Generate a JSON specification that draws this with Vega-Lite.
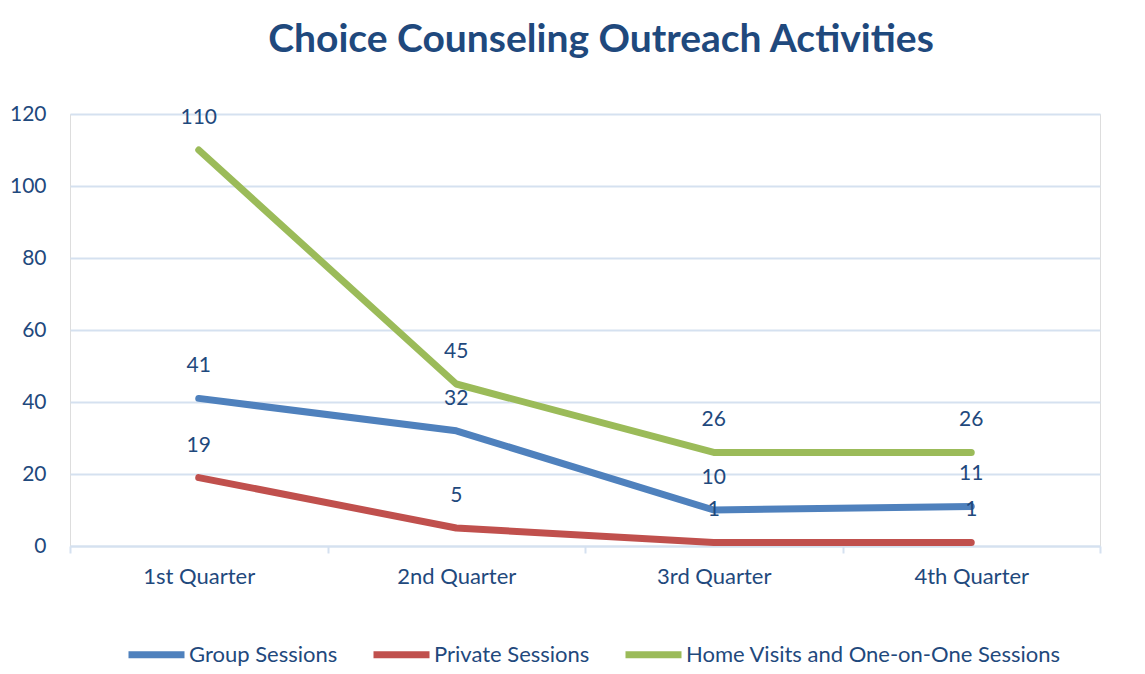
{
  "$schema": "https://vega.github.io/schema/vega-lite/v6.json",
  "width": 1030,
  "height": 432,
  "autosize": {"type": "none"},
  "padding": {"left": 70, "top": 114, "right": 45, "bottom": 128},
  "background": "white",
  "title": {
    "text": "Choice Counseling Outreach Activities",
    "font": "Lato",
    "fontSize": 39,
    "fontWeight": "bold",
    "color": "#1F497D",
    "anchor": "middle",
    "dx": 16,
    "offset": 43
  },
  "data": {
    "values": [
      {"quarter": "1st Quarter", "series": "Group Sessions", "value": 41},
      {"quarter": "2nd Quarter", "series": "Group Sessions", "value": 32},
      {"quarter": "3rd Quarter", "series": "Group Sessions", "value": 10},
      {"quarter": "4th Quarter", "series": "Group Sessions", "value": 11},
      {"quarter": "1st Quarter", "series": "Private Sessions", "value": 19},
      {"quarter": "2nd Quarter", "series": "Private Sessions", "value": 5},
      {"quarter": "3rd Quarter", "series": "Private Sessions", "value": 1},
      {"quarter": "4th Quarter", "series": "Private Sessions", "value": 1},
      {"quarter": "1st Quarter", "series": "Home Visits and One-on-One Sessions", "value": 110},
      {"quarter": "2nd Quarter", "series": "Home Visits and One-on-One Sessions", "value": 45},
      {"quarter": "3rd Quarter", "series": "Home Visits and One-on-One Sessions", "value": 26},
      {"quarter": "4th Quarter", "series": "Home Visits and One-on-One Sessions", "value": 26}
    ]
  },
  "encoding": {
    "x": {
      "field": "quarter",
      "type": "nominal",
      "sort": null,
      "scale": {"type": "band", "paddingInner": 0, "paddingOuter": 0},
      "axis": {
        "title": null,
        "labelAngle": 0,
        "labelFont": "Lato",
        "labelFontSize": 22,
        "labelColor": "#1F497D",
        "labelPadding": 13,
        "tickBand": "extent",
        "ticks": true,
        "tickSize": 7,
        "tickColor": "#D5E1F0",
        "tickWidth": 2,
        "domainColor": "#D5E1F0",
        "domainWidth": 2,
        "grid": false
      }
    },
    "y": {
      "field": "value",
      "type": "quantitative",
      "scale": {"domain": [0, 120]},
      "axis": {
        "title": null,
        "values": [0, 20, 40, 60, 80, 100, 120],
        "labelFont": "Lato",
        "labelFontSize": 21,
        "labelColor": "#1F497D",
        "labelPadding": 24,
        "ticks": false,
        "domain": false,
        "gridColor": "#D5E1F0",
        "gridWidth": 2
      }
    }
  },
  "layer": [
    {
      "mark": {"type": "line", "strokeWidth": 7, "strokeCap": "round", "strokeJoin": "round"},
      "encoding": {
        "color": {
          "field": "series",
          "type": "nominal",
          "scale": {
            "domain": ["Group Sessions", "Private Sessions", "Home Visits and One-on-One Sessions"],
            "range": ["#4F81BD", "#C0504D", "#9BBB59"]
          },
          "legend": {
            "title": null,
            "orient": "none",
            "legendX": 55,
            "legendY": 509,
            "direction": "horizontal",
            "symbolType": "stroke",
            "symbolSize": 3136,
            "symbolStrokeWidth": 7,
            "labelFont": "Lato",
            "labelFontSize": 22,
            "labelColor": "#1F497D",
            "labelLimit": 0,
            "labelOffset": 1,
            "columnPadding": 21
          }
        }
      }
    },
    {
      "mark": {"type": "text", "dy": -32, "font": "Lato", "fontSize": 21, "color": "#1F497D", "baseline": "middle"},
      "encoding": {
        "text": {"field": "value", "type": "quantitative"}
      }
    }
  ]
}
